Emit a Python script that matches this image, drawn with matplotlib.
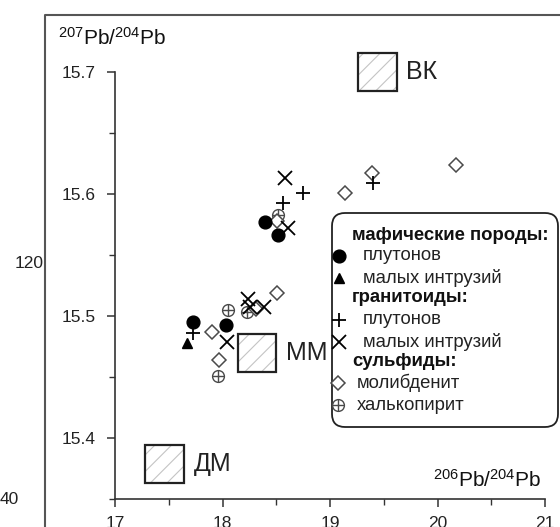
import matplotlib
matplotlib.use('Agg')
import matplotlib.pyplot as plt
from matplotlib.patches import Rectangle, FancyBboxPatch
from matplotlib.lines import Line2D
from matplotlib.transforms import Affine2D
from matplotlib.ticker import MultipleLocator

plt.rcParams['font.family'] = ['Liberation Sans', 'DejaVu Sans']
plt.rcParams['mathtext.fontset'] = 'custom'
plt.rcParams['mathtext.rm'] = 'Liberation Sans'
plt.rcParams['mathtext.it'] = 'Liberation Sans:italic'
plt.rcParams['mathtext.bf'] = 'Liberation Sans:bold'
plt.rcParams['hatch.linewidth'] = 0.8

# ---------------- data ----------------
maf_plut_x = [18.40, 18.52, 17.73, 18.03]
maf_plut_y = [15.577, 15.566, 15.495, 15.493]
maf_intr_x = [17.67]
maf_intr_y = [15.478]
gran_plut_x = [18.56, 18.75, 19.40, 17.73]
gran_plut_y = [15.593, 15.601, 15.609, 15.486]
gran_intr_x = [18.58, 18.61, 18.24, 18.26, 18.39, 18.04]
gran_intr_y = [15.613, 15.572, 15.514, 15.507, 15.507, 15.479]
moly_x = [17.90, 17.97, 18.31, 18.51, 18.51, 19.14, 19.39, 20.17]
moly_y = [15.487, 15.464, 15.506, 15.519, 15.578, 15.601, 15.617, 15.624]
chalco_x = [18.52, 18.05, 18.23, 17.96]
chalco_y = [15.583, 15.505, 15.503, 15.451]

field_names = ['ВК', 'ММ', 'ДМ']
field_x = [19.44, 18.32, 17.46]
field_y = [15.700, 15.470, 15.379]
field_w = 0.36
field_h = 0.031

x_ticks = [17, 18, 19, 20, 21]
y_ticks = [15.4, 15.5, 15.6, 15.7]

legend_rows = [
    ('header', 'мафические породы:'),
    ('maf_plut', 'плутонов'),
    ('maf_intr', 'малых интрузий'),
    ('header', 'гранитоиды:'),
    ('gran_plut', 'плутонов'),
    ('gran_intr', 'малых интрузий'),
    ('header', 'сульфиды:'),
    ('moly', 'молибденит'),
    ('chalco', 'халькопирит'),
]

# ---------------- figure ----------------
W, H = 560, 527
fig = plt.figure(figsize=(W / 100, H / 100), dpi=100)
PX = Affine2D().scale(1 / 100.0) + fig.dpi_scale_trans  # pixel units, origin bottom-left

ax = fig.add_axes([115 / W, 1 - 499 / H, 430 / W, 427 / H])
ax.set_xlim(17, 21)
ax.set_ylim(15.35, 15.7)
for s in ['top', 'right']:
    ax.spines[s].set_visible(False)
for s in ['left', 'bottom']:
    ax.spines[s].set_linewidth(1.2)
    ax.spines[s].set_color('#333333')
ax.set_xticks(x_ticks)
ax.set_yticks(y_ticks)
ax.set_yticklabels([f'{v:.1f}' for v in y_ticks])
ax.xaxis.set_minor_locator(MultipleLocator(0.5))
ax.yaxis.set_minor_locator(MultipleLocator(0.05))
ax.tick_params(axis='both', which='major', direction='out', length=6, width=1.1,
               color='#333333', labelsize=12.5, labelcolor='#222222')
ax.tick_params(axis='both', which='minor', direction='out', length=4, width=1.0,
               color='#333333')
ax.tick_params(axis='y', which='major', pad=8)
ax.tick_params(axis='x', which='major', pad=6)

# reservoir fields (hatched squares)
for name, fx, fy in zip(field_names, field_x, field_y):
    r1 = Rectangle((fx - field_w / 2, fy - field_h / 2), field_w, field_h,
                   facecolor='white', edgecolor='#c4c4c4', hatch='//', lw=0,
                   clip_on=False, zorder=2)
    r2 = Rectangle((fx - field_w / 2, fy - field_h / 2), field_w, field_h,
                   facecolor='none', edgecolor='#222222', lw=1.6,
                   clip_on=False, zorder=2.1)
    ax.add_patch(r1)
    ax.add_patch(r2)
    ax.annotate(name, (fx + field_w / 2, fy), xytext=(7, 0), textcoords='offset points',
                ha='left', va='center', fontsize=18, color='#222222')

ms = 8.5
sulf_col = '#4a4a4a'

def plot_chalco(xs, ys, **kw):
    ax.plot(xs, ys, ls='none', marker='o', ms=ms, mfc='none', mec=sulf_col, mew=1.0, **kw)
    ax.plot(xs, ys, ls='none', marker='+', ms=ms, mec=sulf_col, mew=1.0, **kw)

plot_chalco(chalco_x, chalco_y, zorder=3)
ax.plot(moly_x, moly_y, ls='none', marker='D', ms=7.2, mfc='white', mec=sulf_col, mew=1.1, zorder=3)
ax.plot(gran_plut_x, gran_plut_y, ls='none', marker='+', ms=10, mec='black', mew=1.3, zorder=4)
ax.plot(gran_intr_x, gran_intr_y, ls='none', marker='x', ms=9.5, mec='black', mew=1.3, zorder=4)
ax.plot(maf_plut_x, maf_plut_y, ls='none', marker='o', ms=ms + 0.7, mfc='black', mec='black', zorder=5)
ax.plot(maf_intr_x, maf_intr_y, ls='none', marker='^', ms=7.5, mfc='black', mec='black', zorder=5)

# axis labels
fig.text(58 / W, 1 - 38 / H, r'$^{207}$Pb/$^{204}$Pb', fontsize=15, ha='left', va='center',
         color='#111111')
fig.text(541 / W, 1 - 480 / H, r'$^{206}$Pb/$^{204}$Pb', fontsize=15, ha='right', va='center',
         color='#111111')

# neighbouring-panel fragments
fig.text(44 / W, 1 - 264 / H, '120', fontsize=12.5, ha='right', va='center', color='#222222')
fig.text(19 / W, 1 - 500 / H, '40', fontsize=12.5, ha='right', va='center', color='#222222')
fig.add_artist(Line2D([45, 45, 562], [-2, H - 15, H - 15], transform=PX,
                      color='#555555', lw=1.5))

# ---------------- legend (manual) ----------------
box = FancyBboxPatch((332, H - 427), 226, 214, boxstyle='round,pad=0,rounding_size=13',
                     transform=PX, facecolor='white', edgecolor='#222222', lw=1.3, zorder=10)
fig.add_artist(box)
row_y = [235, 256, 278, 298, 320, 342, 362, 383, 405]
lfs = 13.3
for (kind, label), yy in zip(legend_rows, row_y):
    yd = H - yy
    if kind == 'header':
        fig.text(352, yd, label, transform=PX, fontsize=lfs, fontweight='bold',
                 ha='left', va='center', color='#111111', zorder=11)
        continue
    if kind in ('moly', 'chalco'):
        mx, tx = 338, 357
    else:
        mx, tx = 339, 363
    if kind == 'maf_plut':
        arts = [dict(marker='o', ms=ms + 0.7, mfc='black', mec='black')]
    elif kind == 'maf_intr':
        arts = [dict(marker='^', ms=7.5, mfc='black', mec='black')]
    elif kind == 'gran_plut':
        arts = [dict(marker='+', ms=10, mec='black', mew=1.3)]
    elif kind == 'gran_intr':
        arts = [dict(marker='x', ms=9.5, mec='black', mew=1.3)]
    elif kind == 'moly':
        arts = [dict(marker='D', ms=7.2, mfc='white', mec=sulf_col, mew=1.1)]
    else:
        arts = [dict(marker='o', ms=ms, mfc='none', mec=sulf_col, mew=1.0),
                dict(marker='+', ms=ms, mec=sulf_col, mew=1.0)]
    for a in arts:
        fig.add_artist(Line2D([mx], [yd], transform=PX, ls='none', zorder=11, **a))
    fig.text(tx, yd, label, transform=PX, fontsize=lfs, ha='left', va='center',
             color='#222222', zorder=11)

fig.savefig('out.png', dpi=100)
